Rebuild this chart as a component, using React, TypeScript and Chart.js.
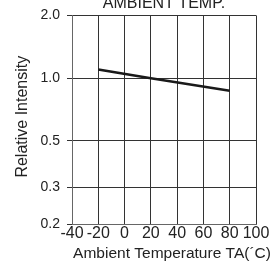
import React, { useEffect, useRef } from "react";
import { Chart, registerables } from "chart.js";

Chart.register(...registerables);

const temperatures = [-20, 20, 80];
const intensity = [1.1, 1.0, 0.87];
const yTickValues = [0.2, 0.3, 0.5, 1.0, 2.0];
const xTickValues = [-40, -20, 0, 20, 40, 60, 80, 100];
const chartTitle = "AMBIENT TEMP.";
const yTitle = "Relative Intensity";
const xTitle = "Ambient Temperature TA(\u00B4C)";

const FONT = "'Liberation Sans', Arial, sans-serif";

const titlePlugin = {
  id: "textTitles",
  afterDraw(chart: any) {
    const { ctx, chartArea } = chart;
    const cx = (chartArea.left + chartArea.right) / 2;
    const cy = (chartArea.top + chartArea.bottom) / 2;
    ctx.save();
    ctx.fillStyle = "#222";
    ctx.textAlign = "center";
    ctx.textBaseline = "alphabetic";
    ctx.font = `16px ${FONT}`;
    ctx.fillText(chartTitle, cx, chartArea.top - 7);
    ctx.font = `15.5px ${FONT}`;
    ctx.fillText(xTitle, cx + 8, chartArea.bottom + 34);
    ctx.translate(chartArea.left - 45, cy - 3);
    ctx.rotate(-Math.PI / 2);
    ctx.font = `16px ${FONT}`;
    ctx.fillText(yTitle, 0, 0);
    ctx.restore();
  },
};

export default function App() {
  const ref = useRef<HTMLCanvasElement>(null);
  useEffect(() => {
    if (!ref.current) return;
    const chart = new Chart(ref.current, {
      type: "line",
      data: {
        datasets: [
          {
            data: temperatures.map((t, i) => ({ x: t, y: intensity[i] })),
            borderColor: "#1a1a1a",
            borderWidth: 2.5,
            pointRadius: 0,
            tension: 0,
          },
        ],
      },
      plugins: [titlePlugin],
      options: {
        animation: false,
        responsive: false,
        maintainAspectRatio: false,
        layout: { padding: { top: 12, right: 20, left: 0, bottom: 0 } },
        plugins: { legend: { display: false }, tooltip: { enabled: false }, title: { display: false } },
        scales: {
          x: {
            type: "linear",
            min: -40,
            max: 100,
            afterBuildTicks: (s: any) => {
              s.ticks = xTickValues.map((v) => ({ value: v }));
            },
            afterFit: (s: any) => {
              s.height = 40;
            },
            grid: { color: "#333", lineWidth: 1, drawTicks: false },
            border: { color: "#666", width: 1 },
            ticks: {
              color: "#222",
              font: { family: FONT, size: 16 },
              padding: 0,
              maxRotation: 0,
              autoSkip: false,
              callback: (v: any) => String(v),
            },
          },
          y: {
            type: "logarithmic",
            min: 0.2,
            max: 2.0,
            afterBuildTicks: (s: any) => {
              s.ticks = yTickValues.map((v) => ({ value: v }));
            },
            afterFit: (s: any) => {
              s.width = 72;
            },
            grid: { color: "#333", lineWidth: 1, tickLength: 5 },
            border: { color: "#666", width: 1 },
            ticks: {
              color: "#222",
              font: { family: FONT, size: 14 },
              padding: 7,
              autoSkip: false,
              callback: (v: any) => Number(v).toFixed(1),
            },
          },
        },
      },
    });
    return () => chart.destroy();
  }, []);
  return (
    <div style={{ position: "fixed", left: 0, top: 0, width: 276, height: 264, background: "#fff" }}>
      <canvas ref={ref} width={276} height={264} style={{ display: "block" }} />
    </div>
  );
}
